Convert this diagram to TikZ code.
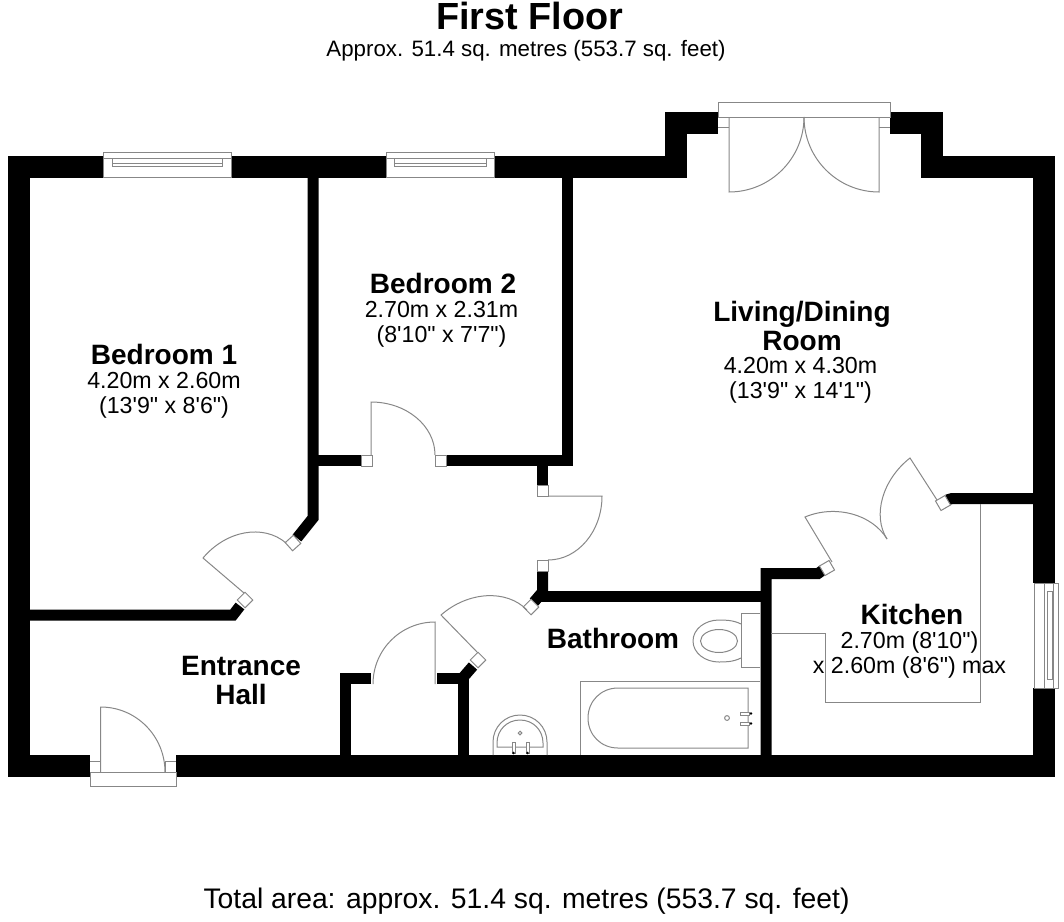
\documentclass[tikz,border=0pt]{standalone}
\usepackage{fontspec}
\setmainfont{Liberation Sans}[Ligatures=TeXOff]
\usepackage{tikz}
\usetikzlibrary{calc}
\definecolor{black}{RGB}{0,0,0}
\definecolor{line_gray}{RGB}{135,135,135}

\tikzset{
	wall/.style={draw=black,line width=22,miter limit=10},
	partition/.style={draw=black,line width=11,miter limit=10},
	fixture/.style={draw=line_gray,line width=1},
	doorpost/.style={rectangle,draw=line_gray,fill=white,line width=1,minimum size=11,inner sep=0},
	room_label/.style={align=center,font=\fontsize{23.2}{24.5}\selectfont},
	room_name/.style={align=center,font=\fontsize{28}{28.7}\selectfont\bfseries}
}
% leaf from hinge #1 to end #2, then the swing from #2 to #3
\newcommand{\doorleaf}[3]{
	\draw[fixture] (#1) -- (#2) .. controls ($(#2)+0.5523*(#3)-0.5523*(#1)$) and ($(#3)+0.5523*(#2)-0.5523*(#1)$) .. (#3);
}

\begin{document}
\begin{tikzpicture}[x=1pt,y=-1pt]
	\useasboundingbox (0,0) rectangle (1064,921);

	\node[font=\fontsize{37.8}{38}\selectfont\bfseries] (title) at (529.5,16) {First Floor};
	\node[font=\fontsize{22.3}{23}\selectfont] (subtitle) at (526,51) {Approx. 51.4 sq. metres (553.7 sq. feet)};
	\node[font=\fontsize{28.3}{29}\selectfont] (total) at (526.5,901) {Total area: approx. 51.4 sq. metres (553.7 sq. feet)};

	% outer walls
	\draw[wall] (103,167) -- (19,167) -- (19,766) -- (90,766);
	\draw[wall] (386,167) -- (231,167);
	\draw[wall] (718,122.5) -- (676,122.5) -- (676,167) -- (494,167);
	\draw[wall] (890,122.5) -- (932,122.5) -- (932,167) -- (1044,167) -- (1044,583);
	\draw[wall] (176,766) -- (1044,766) -- (1044,688);

	% inner walls
	\draw[partition] (313,167) -- (313,518) -- (297,538);
	\draw[partition] (19,615) -- (233,615) -- (240,606);
	\draw[partition] (313,460.5) -- (361,460.5);
	\draw[partition] (446,460.5) -- (567,460.5) -- (567,167);
	\draw[partition] (542.5,466) -- (542.5,485);
	\draw[partition] (542.5,571) -- (542.5,592) -- (534,602);
	\draw[partition] (540,596.5) -- (766,596.5);
	\draw[partition] (823,570) -- (818,573.5) -- (766,573.5) -- (766,766);
	\draw[partition] (947,500) -- (952,498.5) -- (1044,498.5);
	\draw[partition] (371,678.5) -- (345.5,678.5) -- (345.5,766);
	\draw[partition] (437,678.5) -- (463.5,678.5) -- (463.5,766);
	\draw[partition] (460,681) -- (473,666);

	\foreach \x/\y/\a/\n in {293/543/42/a,245/600/45/b,366.5/460.5/0/c,440.5/460.5/0/d,542.5/490.5/0/e,542.5/565.5/0/f,531/607/45/g,478/660/45/h,827/568/30/i,943/503/30/j}
		\node[doorpost,rotate=\a] (post\n) at (\x,\y) {};

	% door swings
	\doorleaf{244,593}{203,558}{286,543}
	\doorleaf{371,455}{371,402}{435,455}
	\doorleaf{548,496}{602,496}{548,560}
	\doorleaf{478,653}{441,615}{527,610}
	\doorleaf{435,684}{435,622}{373,684}
	\doorleaf{100.7,772}{100.7,707}{165,772}
	\doorleaf{832,562}{805,517}{887,539}
	\doorleaf{937,500}{910,458}{887,539}
	\doorleaf{729,117}{729,192}{804,117}
	\doorleaf{879,117}{879,192}{804,117}

	% door frames
	\draw[fixture] (90,772) rectangle (176,786);
	\draw[fixture] (90,761) -- (100.7,761);
	\draw[fixture] (165,772) -- (165,761) -- (176,761);
	\draw[fixture] (718,102) rectangle (890,117);
	\draw[fixture] (718,127) -- (729,127);
	\draw[fixture] (879,127) -- (890,127);

	% windows
	\foreach \l/\r/\il/\ir in {103/231/112/222,386/494/394/486}{
		\draw[fixture,fill=white] (\l,152) rectangle (\r,177);
		\draw[fixture] (\l,158) -- (\r,158);
		\draw[fixture] (\il,158) -- (\il,167) (\ir,158) -- (\ir,167);
		\draw[fixture] (\il,163) -- (\ir,163);
		\draw[fixture] (\il,166) -- (\ir,166);
	}
	\draw[fixture,fill=white] (1034,583) rectangle (1058,688);
	\draw[fixture] (1044,583) -- (1044,688);
	\draw[fixture] (1053,583) -- (1053,688);
	\draw[fixture] (1047,591) rectangle (1052,679);

	% kitchen worktop
	\draw[fixture] (980,504) -- (980,702) -- (825,702) -- (825,633) -- (771,633);

	% toilet
	\draw[fixture] (760,613) -- (741,613) -- (741,667) -- (760,667);
	\draw[fixture] (741,624) .. controls (733,620) and (725,620) .. (719,620) .. controls (705,620) and (693,629) .. (693,641) .. controls (693,653) and (705,662) .. (719,662) .. controls (725,662) and (733,662) .. (741,658);
	\draw[fixture] (719,641) ellipse (18.5 and 11.5);

	% bath
	\draw[fixture] (580,755) -- (580,681) -- (760,681);
	\draw[fixture] (618,688) -- (748,688) -- (748,748) -- (618,748) .. controls (601,748) and (588,735) .. (588,718) .. controls (588,701) and (601,688) .. (618,688);
	\draw[fixture] (727,718) circle (2.4);
	\foreach \y in {712,722}{
		\draw[fixture,fill=white] (740,\y) rectangle (749,\y+3);
		\fill[black] (751,\y+1.5) circle (1.4);
	}

	% basin
	\draw[fixture] (493,755) -- (493,742) .. controls (493,727) and (505,715) .. (520,715) .. controls (535,715) and (547,727) .. (547,742) -- (547,755);
	\draw[fixture] (497,747) -- (497,743) .. controls (497,730) and (507,720) .. (520,720) .. controls (533,720) and (543,730) .. (543,743) -- (543,747) -- cycle;
	\draw[fixture] (520,733) circle (1.8);
	\foreach \x in {512,526}{
		\draw[fixture,fill=white] (\x,742) rectangle (\x+3,753);
		\fill[black] (\x+1.5,753) circle (1.4);
	}

	% room labels
	\node[room_name] (bedroom1) at (164,354.5) {Bedroom 1};
	\node[room_label] (bedroom1size) at (164,395.5) {4.20m x 2.60m\\(13'9" x 8'6")};
	\node[room_name] (bedroom2) at (443,283) {Bedroom 2};
	\node[room_label] (bedroom2size) at (441.5,324.5) {2.70m x 2.31m\\(8'10" x 7'7")};
	\node[room_name] (living) at (802,326) {Living/Dining\\Room};
	\node[room_label] (livingsize) at (800.5,380.5) {4.20m x 4.30m\\(13'9" x 14'1")};
	\node[room_name] (kitchen) at (912,614) {Kitchen};
	\node[room_label] (kitchensize) at (909.5,655) {2.70m (8'10")\\x 2.60m (8'6") max};
	\node[room_name] (hall) at (241,680.5) {Entrance\\Hall};
	\node[room_name] (bathroom) at (613,638) {Bathroom};
\end{tikzpicture}
\end{document}
